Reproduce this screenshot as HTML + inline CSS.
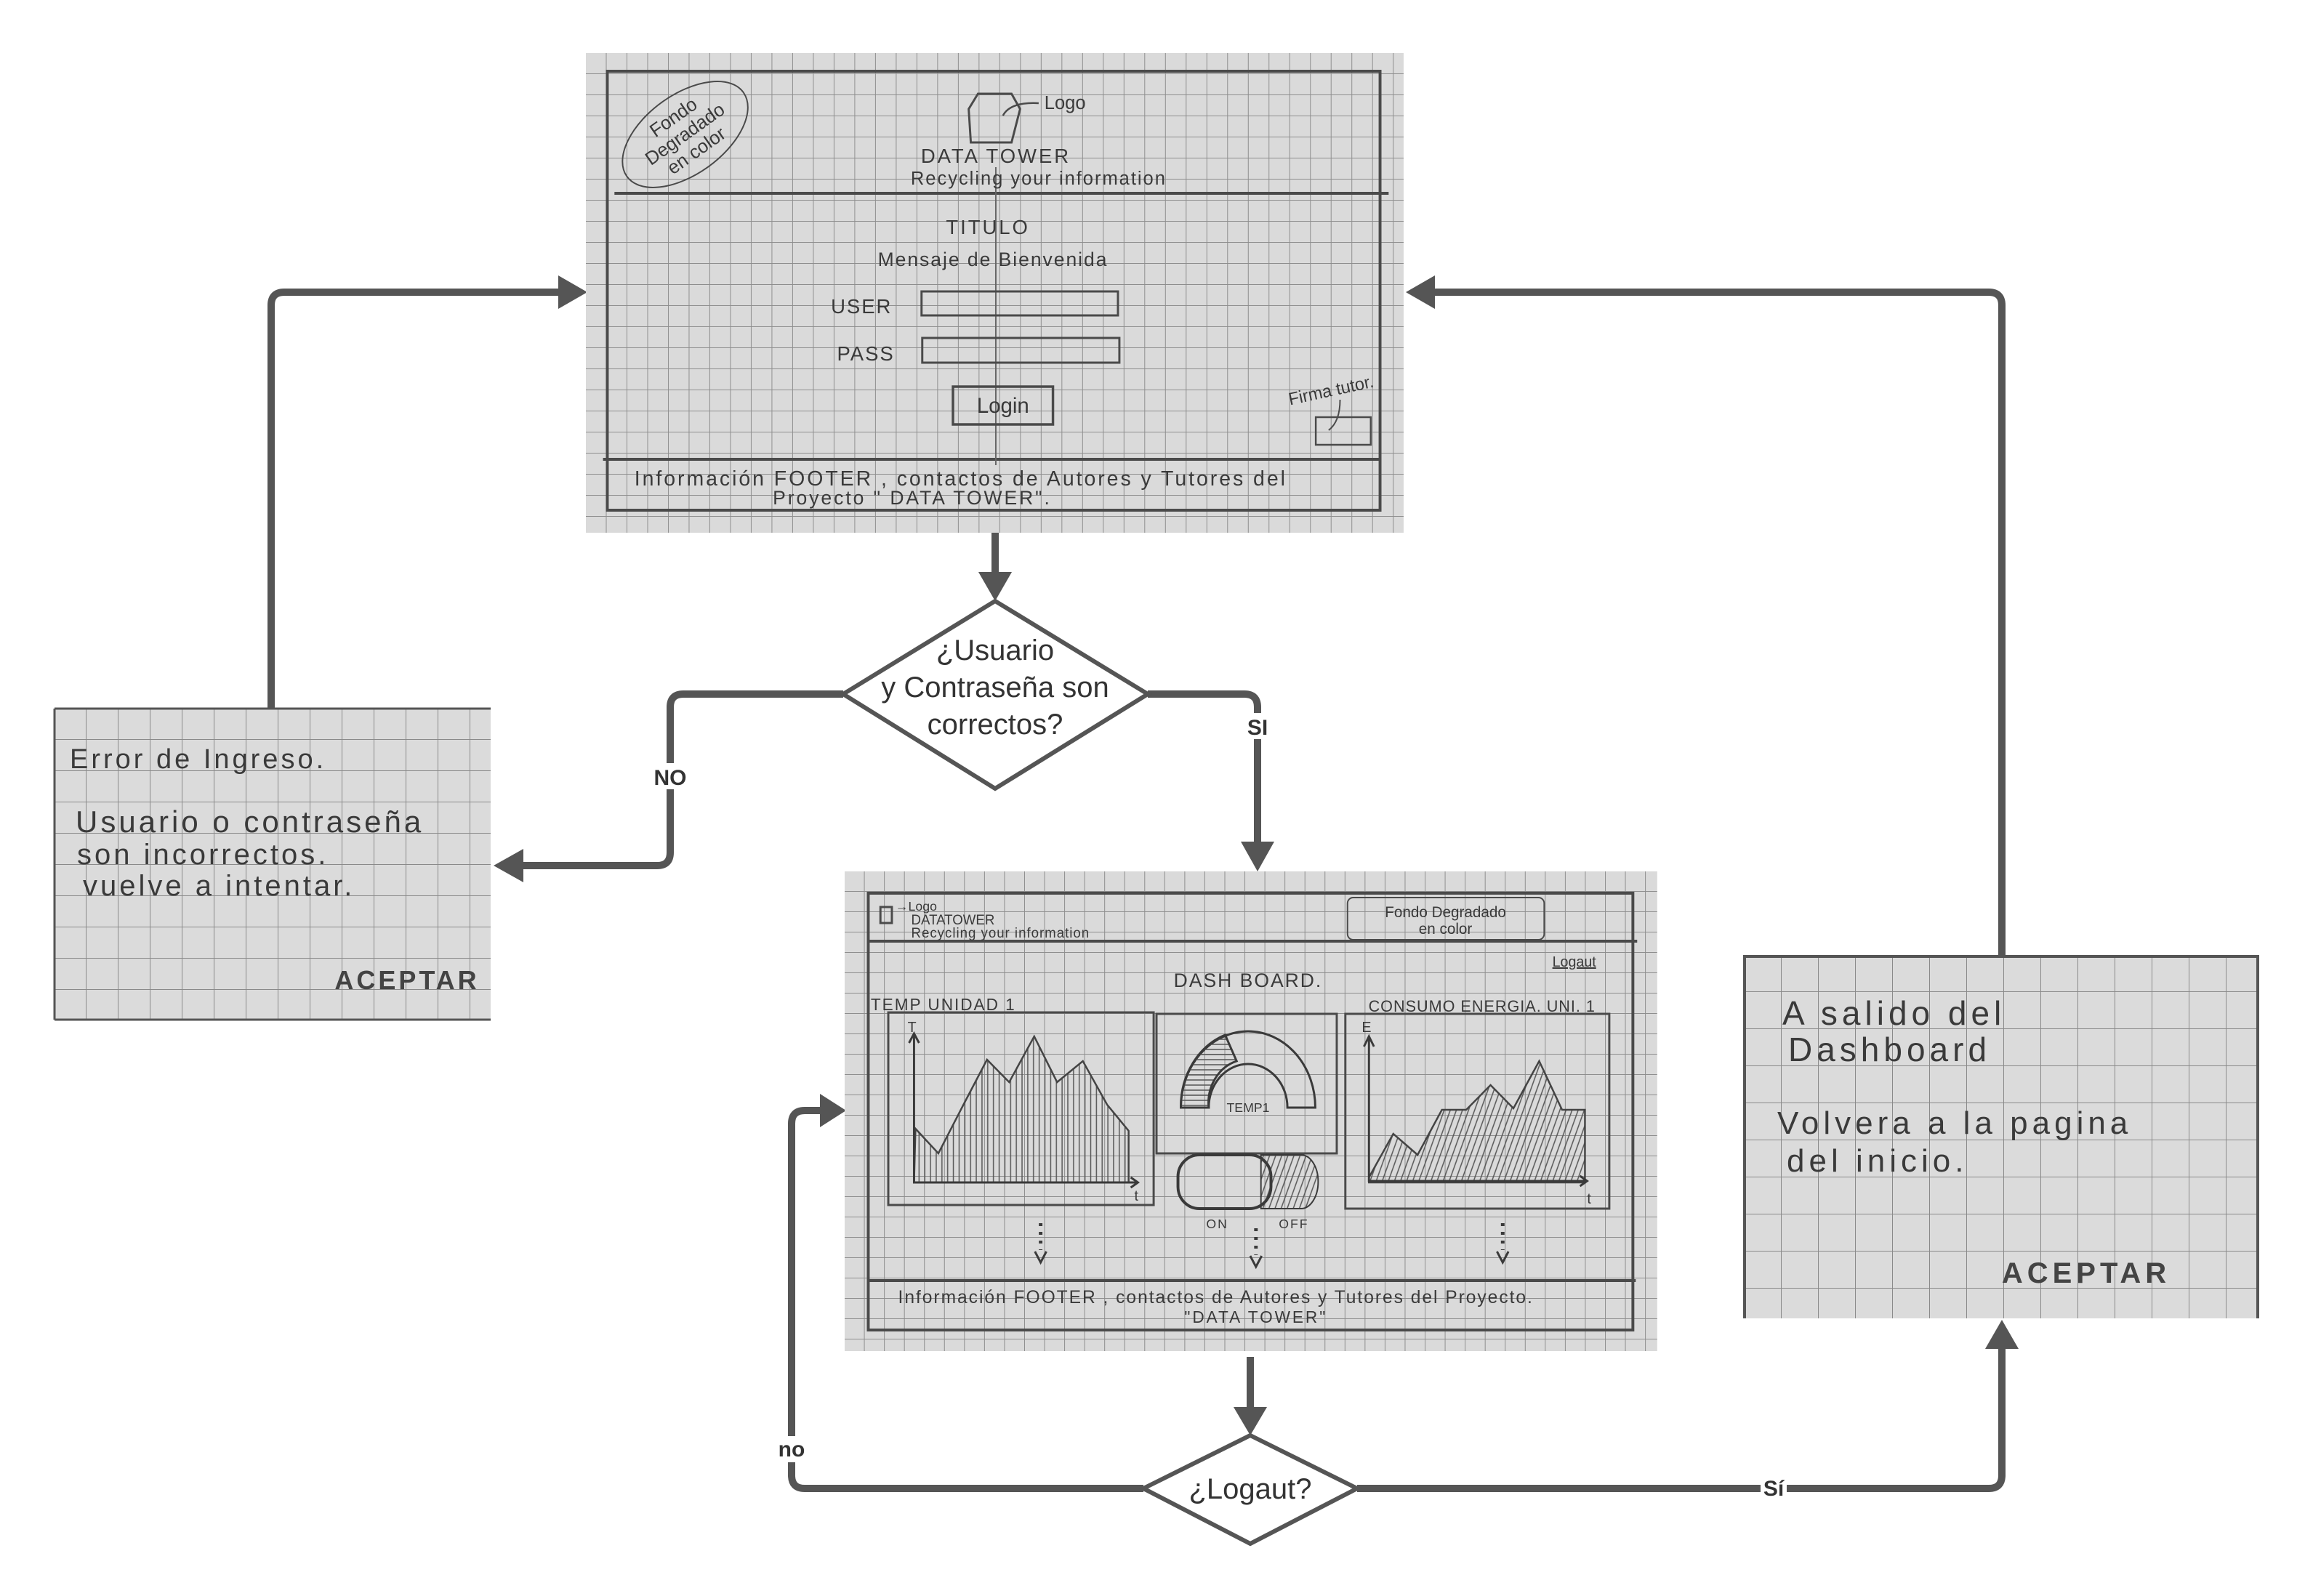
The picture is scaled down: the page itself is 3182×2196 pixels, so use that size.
<!DOCTYPE html>
<html><head><meta charset="utf-8"><style>
html,body{margin:0;padding:0;background:#fff;}
svg{display:block;}
text{font-family:"Liberation Sans",sans-serif;}
.h{fill:#3a3a3a;font-family:"Liberation Sans",sans-serif;}
</style></head><body>
<svg width="3182" height="2196" viewBox="0 0 3182 2196" xmlns="http://www.w3.org/2000/svg">
<defs>
<pattern id="g29" width="29" height="29" patternUnits="userSpaceOnUse" x="806" y="73"><rect width="29" height="29" fill="#dadada"/><path d="M29 0V29M0 29H29" stroke="#8e8e8e" stroke-width="2"/></pattern>
<pattern id="g28" width="28" height="28" patternUnits="userSpaceOnUse" x="1162" y="1199"><rect width="28" height="28" fill="#dadada"/><path d="M28 0V28M0 28H28" stroke="#8e8e8e" stroke-width="2"/></pattern>
<pattern id="g44" width="44" height="43" patternUnits="userSpaceOnUse" x="75" y="975"><rect width="44" height="43" fill="#dbdbdb"/><path d="M44 0V43M0 43H44" stroke="#8a8a8a" stroke-width="2"/></pattern>
<pattern id="g51" width="51" height="51" patternUnits="userSpaceOnUse" x="2400" y="1314"><rect width="51" height="51" fill="#dbdbdb"/><path d="M51 0V51M0 51H51" stroke="#8a8a8a" stroke-width="2"/></pattern>
<pattern id="hatchV" width="8" height="8" patternUnits="userSpaceOnUse"><path d="M2 0V8" stroke="#555" stroke-width="1.5"/></pattern>
<pattern id="hatchD" width="8" height="8" patternUnits="userSpaceOnUse" patternTransform="rotate(20)"><path d="M2 0V8" stroke="#555" stroke-width="1.5"/></pattern>
<pattern id="hatchH" width="8" height="7" patternUnits="userSpaceOnUse"><path d="M0 2H8" stroke="#555" stroke-width="1.5"/></pattern>
</defs>

<!-- connectors -->
<g stroke="#555" stroke-width="10" fill="none" stroke-linejoin="round">
<path d="M1369 733V790"/>
<path d="M1160 955H940Q922 955 922 973V1173Q922 1191 904 1191H720"/>
<path d="M1579 955H1712Q1730 955 1730 973V1160"/>
<path d="M373 975V420Q373 402 391 402H770"/>
<path d="M1720 1867V1940"/>
<path d="M1573 2048H1107Q1089 2048 1089 2030V1546Q1089 1528 1107 1528H1130"/>
<path d="M1867 2048H2736Q2754 2048 2754 2030V1856"/>
<path d="M2754 1314V420Q2754 402 2736 402H1972"/>
</g>
<g fill="#555">
<polygon points="1346,787 1392,787 1369,827"/>
<polygon points="720,1168 720,1214 679,1191"/>
<polygon points="1707,1158 1753,1158 1730,1199"/>
<polygon points="768,379 768,425 808,402"/>
<polygon points="1697,1936 1743,1936 1720,1975"/>
<polygon points="1128,1505 1128,1551 1164,1528"/>
<polygon points="2731,1856 2777,1856 2754,1816"/>
<polygon points="1974,379 1974,425 1934,402"/>
</g>
<g font-weight="bold" font-size="30" fill="#333" text-anchor="middle">
<rect x="896" y="1050" width="52" height="36" fill="#fff"/><text x="922" y="1080">NO</text>
<rect x="1712" y="981" width="36" height="36" fill="#fff"/><text x="1730" y="1011">SI</text>
<rect x="1069" y="1976" width="42" height="36" fill="#fff"/><text x="1089" y="2004">no</text>
<rect x="2422" y="2030" width="36" height="36" fill="#fff"/><text x="2440" y="2058">Sí</text>
</g>

<!-- diamonds -->
<polygon points="1369,827 1579,955 1369,1085 1160,955" fill="#fff" stroke="#555" stroke-width="6"/>
<g font-size="40" fill="#333" text-anchor="middle">
<text x="1369" y="908">¿Usuario</text>
<text x="1369" y="959">y Contraseña son</text>
<text x="1369" y="1010">correctos?</text>
</g>
<polygon points="1720,1975 1867,2048 1720,2124 1573,2048" fill="#fff" stroke="#555" stroke-width="6"/>
<text x="1720" y="2062" font-size="40" fill="#333" text-anchor="middle">¿Logaut?</text>

<!-- top login sketch -->
<g transform="translate(806 0) scale(0.9825 1) translate(-806 0)">
<rect x="806" y="73" width="1145" height="660" fill="url(#g29)"/>
<g stroke="#4a4a4a" fill="none" stroke-width="4">
<path d="M836 98H1918V702H836Z"/>
<path d="M846 266H1930"/>
<path d="M830 632H1918"/>
<path d="M1380 230V640" stroke-width="2" stroke="#666"/>
<path d="M1355 129H1402L1414 150L1402 196H1345L1342 150Z" stroke-width="3"/>
<path d="M1390 159Q1400 140 1440 142" stroke-width="2.5"/>
<ellipse cx="945" cy="185" rx="100" ry="55" transform="rotate(-35 945 185)" stroke-width="2"/>
<rect x="1276" y="401" width="275" height="33" stroke-width="3"/>
<rect x="1277" y="465" width="276" height="34" stroke-width="3"/>
<rect x="1320" y="532" width="140" height="52" stroke-width="3.5"/>
<path d="M1828 574H1905V612H1828Z" stroke-width="2.5"/>
<path d="M1846 592Q1862 580 1862 550" stroke-width="2"/>
</g>
<g class="h">
<text x="1448" y="150" font-size="26">Logo</text>
<g transform="rotate(-35 945 185)" font-size="26" text-anchor="middle"><text x="945" y="165">Fondo</text><text x="945" y="193">Degradado</text><text x="945" y="221">en color</text></g>
<text x="1380" y="224" font-size="28" text-anchor="middle" letter-spacing="3">DATA TOWER</text>
<text x="1440" y="254" font-size="26" text-anchor="middle" letter-spacing="2">Recycling your information</text>
<text x="1369" y="322" font-size="28" text-anchor="middle" letter-spacing="3">TITULO</text>
<text x="1376" y="366" font-size="27" text-anchor="middle" letter-spacing="2">Mensaje de Bienvenida</text>
<text x="1192" y="431" font-size="28" text-anchor="middle" letter-spacing="2">USER</text>
<text x="1198" y="496" font-size="28" text-anchor="middle" letter-spacing="2">PASS</text>
<text x="1390" y="568" font-size="30" text-anchor="middle">Login</text>
<text x="1850" y="545" font-size="24" text-anchor="middle" transform="rotate(-12 1850 540)">Firma tutor.</text>
<text x="1331" y="668" font-size="29" text-anchor="middle" letter-spacing="3">Información FOOTER , contactos de Autores y Tutores del</text>
<text x="1263" y="694" font-size="27" text-anchor="middle" letter-spacing="3">Proyecto   " DATA TOWER".</text>
</g>
</g>

<!-- dashboard sketch -->
<g transform="translate(1162 0) scale(0.984 1) translate(-1162 0)">
<rect x="1162" y="1199" width="1136" height="660" fill="url(#g28)"/>
<g stroke="#4a4a4a" fill="none" stroke-width="4">
<path d="M1195 1229H2264V1830H1195Z"/>
<path d="M1195 1295H2270"/>
<path d="M1195 1762H2268"/>
<rect x="1223" y="1393" width="371" height="265" stroke-width="3"/>
<rect x="1598" y="1395" width="252" height="192" stroke-width="3"/>
<rect x="1862" y="1395" width="369" height="268" stroke-width="3"/>
<rect x="1865" y="1235" width="275" height="58" rx="8" stroke-width="2"/>
<rect x="1212" y="1248" width="16" height="22" stroke-width="3"/>
</g>
<polygon points="1259,1627 1261,1553 1293,1587 1327,1522 1361,1458 1392,1489 1427,1426 1459,1489 1495,1460 1529,1520 1559,1556 1559,1627" fill="url(#hatchV)" stroke="#444" stroke-width="2.5"/>
<polygon points="1895,1627 1895,1620 1929,1560 1963,1589 1997,1527 2031,1527 2065,1493 2097,1525 2133,1460 2165,1527 2197,1527 2197,1627" fill="url(#hatchD)" stroke="#444" stroke-width="2.5"/>
<g stroke="#3a3a3a" stroke-width="3" fill="none">
<path d="M1259 1422V1627H1572M1252 1435L1259 1422L1266 1435M1562 1620L1572 1627L1562 1634"/>
<path d="M1895 1426V1625H2200M1888 1440L1895 1426L1902 1440M2190 1618L2200 1625L2190 1632"/>
<path d="M1632 1524A94 105 0 0 1 1820 1524H1781A55 60 0 0 0 1671 1524Z"/>
<path d="M1632 1524A94 105 0 0 1 1694 1424L1710 1460A55 60 0 0 0 1671 1524Z" fill="url(#hatchH)"/>
<path d="M1744 1589H1800A24 37 0 0 1 1800 1663H1744Z" fill="url(#hatchD)" stroke-width="2"/>
<rect x="1628" y="1589" width="130" height="74" rx="30" stroke-width="4"/>
<path d="M1436 1683V1720M1737 1690V1727M2082 1683V1720" stroke-dasharray="4 8" stroke-width="5"/>
<path d="M1428 1722L1436 1737L1444 1722M1729 1728L1737 1743L1745 1728M2074 1722L2082 1737L2090 1722"/>
</g>
<g class="h">
<text x="1233" y="1253" font-size="18">→Logo</text>
<text x="1255" y="1272" font-size="19">DATATOWER</text>
<text x="1255" y="1290" font-size="19" letter-spacing="1">Recycling your information</text>
<text x="2002" y="1262" font-size="21" text-anchor="middle">Fondo Degradado</text>
<text x="2002" y="1285" font-size="21" text-anchor="middle">en color</text>
<text x="2182" y="1330" font-size="20" text-anchor="middle" text-decoration="underline">Logaut</text>
<text x="1726" y="1358" font-size="27" text-anchor="middle" letter-spacing="2">DASH BOARD.</text>
<text x="1300" y="1390" font-size="23" text-anchor="middle" letter-spacing="2">TEMP UNIDAD 1</text>
<text x="2053" y="1392" font-size="22" text-anchor="middle" letter-spacing="1">CONSUMO ENERGIA. UNI. 1</text>
<text x="1250" y="1420" font-size="20">T</text>
<text x="1567" y="1652" font-size="20">t</text>
<text x="1885" y="1420" font-size="20">E</text>
<text x="2200" y="1656" font-size="20">t</text>
<text x="1726" y="1530" font-size="18" text-anchor="middle">TEMP1</text>
<text x="1683" y="1690" font-size="18" text-anchor="middle" letter-spacing="2">ON</text>
<text x="1790" y="1690" font-size="18" text-anchor="middle" letter-spacing="2">OFF</text>
<text x="1681" y="1793" font-size="25" text-anchor="middle" letter-spacing="2">Información FOOTER , contactos de Autores y Tutores del Proyecto.</text>
<text x="1737" y="1820" font-size="23" text-anchor="middle" letter-spacing="3">"DATA TOWER"</text>
</g>
</g>

<!-- error box -->
<rect x="75" y="975" width="600" height="428" fill="url(#g44)"/>
<path d="M75 975H675M75 1403H675M75 975V1403" fill="none" stroke="#555" stroke-width="3"/>
<g class="h" letter-spacing="4">
<text x="96" y="1057" font-size="38">Error de Ingreso.</text>
<text x="104" y="1145" font-size="42">Usuario o contraseña</text>
<text x="106" y="1189" font-size="40">son  incorrectos.</text>
<text x="114" y="1232" font-size="40">vuelve a intentar.</text>
<text x="560" y="1361" font-size="36" text-anchor="middle" font-weight="bold" fill="#444">ACEPTAR</text>
</g>

<!-- logout box -->
<rect x="2400" y="1314" width="706" height="500" fill="url(#g51)"/>
<path d="M2400 1316H3106V1814M2400 1314V1814" fill="none" stroke="#555" stroke-width="4"/>
<g class="h" letter-spacing="6">
<text x="2452" y="1410" font-size="46">A salido del</text>
<text x="2460" y="1460" font-size="46">Dashboard</text>
<text x="2445" y="1560" font-size="44">Volvera a la pagina</text>
<text x="2458" y="1612" font-size="44">del  inicio.</text>
<text x="2870" y="1765" font-size="40" text-anchor="middle" font-weight="bold" fill="#444">ACEPTAR</text>
</g>
</svg>
</body></html>
